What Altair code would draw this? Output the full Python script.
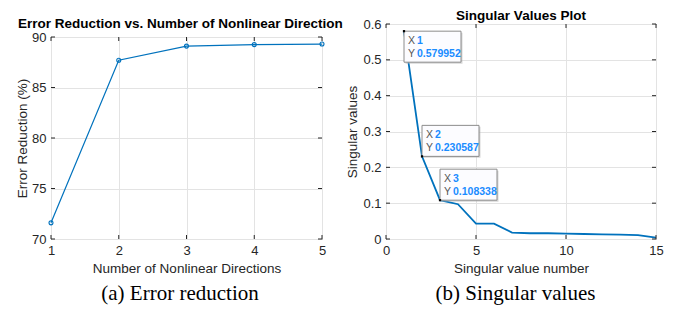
import altair as alt
import pandas as pd

# ---- data ----
n_dirs = [1, 2, 3, 4, 5]
err_red = [71.6, 87.7, 89.1, 89.25, 89.3]

sv_idx = list(range(1, 16))
sv_val = [0.579952, 0.230587, 0.108338, 0.097, 0.043, 0.043, 0.018, 0.016,
          0.016, 0.015, 0.014, 0.013, 0.012, 0.011, 0.004]

tip_x = [1, 2, 3]
tip_y = [0.579952, 0.230587, 0.108338]
tip_xs = ["1", "2", "3"]
tip_ys = ["0.579952", "0.230587", "0.108338"]

left_xticks = [1, 2, 3, 4, 5]
left_yticks = [70, 75, 80, 85, 90]
right_xticks = [0, 5, 10, 15]
right_yticks = [0, 0.1, 0.2, 0.3, 0.4, 0.5, 0.6]

left_title = "Error Reduction vs. Number of Nonlinear Direction"
right_title = "Singular Values Plot"
left_caption = "(a) Error reduction"
right_caption = "(b) Singular values"

BLUE = "#0072BD"
TIPBLUE = "#1a8cff"
TXT = "#262626"
FONT = "Liberation Sans"
SERIF = "Liberation Serif"

LW, LH = 271, 202
RW, RH = 270, 215
SHIFT = 13


def axis(values, fmt, title, pad=5, tpad=4):
    return alt.Axis(values=values, format=fmt, title=title, grid=True,
                    gridColor="#e3e3e3", gridWidth=1, domain=False, ticks=False,
                    labelFont=FONT, labelFontSize=13, labelColor=TXT,
                    labelPadding=pad, titleFont=FONT, titleFontSize=13.5,
                    titleColor=TXT, titleFontWeight="normal", titlePadding=tpad,
                    labelFlush=False, labelOverlap=False)


def inward_ticks(xvals, yvals, xs, ys, xa, ya, w, h, tl=4):
    dx = pd.DataFrame({"v": xvals})
    dy = pd.DataFrame({"v": yvals})
    r = alt.Chart(dx).mark_rule(color=TXT, strokeWidth=1)
    X = alt.X("v:Q", scale=xs, axis=xa)
    b = r.encode(x=X, y=alt.value(h), y2=alt.value(h - tl))
    t = r.encode(x=X, y=alt.value(0), y2=alt.value(tl))
    r2 = alt.Chart(dy).mark_rule(color=TXT, strokeWidth=1)
    Y = alt.Y("v:Q", scale=ys, axis=ya)
    l = r2.encode(y=Y, x=alt.value(0), x2=alt.value(tl))
    rr = r2.encode(y=Y, x=alt.value(w), x2=alt.value(w - tl))
    return [b, t, l, rr]


def text_mark(s, **kw):
    return alt.Chart(pd.DataFrame({"t": [s]})).mark_text(**kw).encode(text="t:N")


# ---- left panel ----
ldf = pd.DataFrame({"n": n_dirs, "e": err_red})
lx = alt.Scale(domain=[1, 5], nice=False, zero=False)
ly = alt.Scale(domain=[70, 90], nice=False, zero=False)
lxa = axis(left_xticks, "d", "Number of Nonlinear Directions")
lya = axis(left_yticks, "d", "Error Reduction (%)", tpad=2)
lbase = alt.Chart(ldf).encode(
    x=alt.X("n:Q", scale=lx, axis=lxa),
    y=alt.Y("e:Q", scale=ly, axis=lya),
)
lline = lbase.mark_line(color=BLUE, strokeWidth=1.2)
lpts = lbase.mark_point(color=BLUE, size=16, strokeWidth=1.1, filled=False, opacity=1)
ltitle = text_mark(left_title, font=FONT, fontSize=13.5, fontWeight="bold", color="black",
                   align="left", baseline="middle").encode(x=alt.value(-33), y=alt.value(-13))
lcap = text_mark(left_caption, font=SERIF, fontSize=21, color="black", align="center",
                 baseline="middle").encode(x=alt.value(LW / 2 - 6.5), y=alt.value(LH + 55))

left_main = alt.layer(lline, lpts,
                      *inward_ticks(left_xticks, left_yticks, lx, ly, lxa, lya, LW, LH),
                      ltitle, lcap).properties(width=LW, height=LH)

spacer = alt.Chart(pd.DataFrame({"a": [0]})).mark_point(opacity=0).encode(
    x=alt.value(0), y=alt.value(0)
).properties(width=LW, height=SHIFT, view=alt.ViewBackground(stroke="transparent"))

left = alt.vconcat(spacer, left_main, spacing=0, bounds="flush")

# ---- right panel ----
rdf = pd.DataFrame({"i": sv_idx, "s": sv_val})
rx = alt.Scale(domain=[0, 15], nice=False, zero=False)
ry = alt.Scale(domain=[0, 0.6], nice=False, zero=False)
rxa = axis(right_xticks, "d", "Singular value number")
rya = axis(right_yticks, ".1~f", "Singular values", tpad=3)
rline = alt.Chart(rdf).mark_line(color=BLUE, strokeWidth=1.8).encode(
    x=alt.X("i:Q", scale=rx, axis=rxa),
    y=alt.Y("s:Q", scale=ry, axis=rya),
)

tdf = pd.DataFrame({"x": tip_x, "y": tip_y, "xs": tip_xs, "ys": tip_ys})
tenc = dict(x=alt.X("x:Q", scale=rx, axis=rxa), y=alt.Y("y:Q", scale=ry, axis=rya))


def tip_layers(d, down):
    y2off = 31 if down else -31
    top = 0 if down else -31
    box = alt.Chart(d).mark_rect(
        fill="#fcfcff", stroke="#8c8c8c", strokeWidth=1, x2Offset=57, y2Offset=y2off
    ).encode(x2="x:Q", y2="y:Q", **tenc)
    shadow = alt.Chart(d).mark_rect(
        fill="#b0b0b0", opacity=0.5, xOffset=1.5, x2Offset=58.5,
        yOffset=1.5, y2Offset=y2off + 1.5
    ).encode(x2="x:Q", y2="y:Q", **tenc)
    base = alt.Chart(d)
    xl = base.mark_text(text="X", font=FONT, fontSize=10.5, color="#555555", align="left",
                        baseline="middle", dx=4, dy=top + 9.5).encode(**tenc)
    yl = base.mark_text(text="Y", font=FONT, fontSize=10.5, color="#555555", align="left",
                        baseline="middle", dx=4, dy=top + 22.5).encode(**tenc)
    xv = base.mark_text(font=FONT, fontSize=10.5, fontWeight="bold", color=TIPBLUE, align="left",
                        baseline="middle", dx=13, dy=top + 9.5).encode(text="xs:N", **tenc)
    yv = base.mark_text(font=FONT, fontSize=10.5, fontWeight="bold", color=TIPBLUE, align="left",
                        baseline="middle", dx=13, dy=top + 22.5).encode(text="ys:N", **tenc)
    return [shadow, box, xl, yl, xv, yv]


tpts = alt.Chart(tdf).mark_point(shape="square", size=5, filled=True, color="black",
                                 opacity=1).encode(**tenc)
rtitle = text_mark(right_title, font=FONT, fontSize=13.5, fontWeight="bold", color="black",
                   align="center", baseline="middle").encode(x=alt.value(RW / 2), y=alt.value(-8))
rcap = text_mark(right_caption, font=SERIF, fontSize=21, color="black", align="center",
                 baseline="middle").encode(x=alt.value(RW / 2 - 5.5), y=alt.value(RH + 55))

right = alt.layer(
    rline, *inward_ticks(right_xticks, right_yticks, rx, ry, rxa, rya, RW, RH),
    *tip_layers(tdf.iloc[:1], True), *tip_layers(tdf.iloc[1:], False), tpts, rtitle, rcap
).properties(width=RW, height=RH)

chart = alt.hconcat(left, right, spacing=1).configure_view(
    stroke=TXT, strokeWidth=1
).properties(padding={"left": 7, "top": 0, "right": 0, "bottom": 0})

chart.save("out.html", embed_options={"renderer": "svg", "actions": False})
